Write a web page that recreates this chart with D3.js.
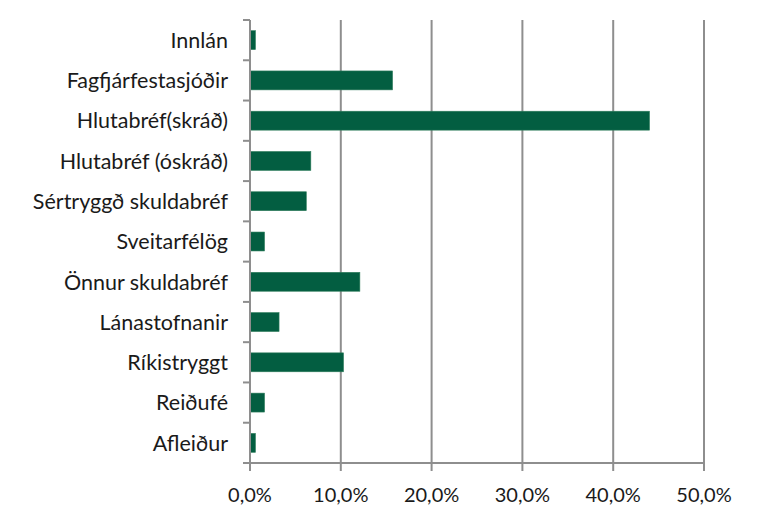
<!DOCTYPE html>
<html><head><meta charset="utf-8">
<script src="https://cdn.jsdelivr.net/npm/d3@7"></script>
<style>body{margin:0;background:#fff}svg{display:block}text{font-family:Lato,"Open Sans",sans-serif;fill:#1a1a1a}</style>
</head><body><svg id="c" width="770" height="522"></svg>
<script>
const categories = ["Innlán","Fagfjárfestasjóðir","Hlutabréf(skráð)","Hlutabréf (óskráð)","Sértryggð skuldabréf","Sveitarfélög","Önnur skuldabréf","Lánastofnanir","Ríkistryggt","Reiðufé","Afleiður"];
const values = [0.6, 15.7, 44.0, 6.7, 6.2, 1.6, 12.1, 3.2, 10.3, 1.6, 0.6];
const xTicks = [0, 10, 20, 30, 40, 50];

const m = {left: 250, right: 66, top: 20, bottom: 59};
const W = 770, H = 522;
const svg = d3.select("#c");
const x = d3.scaleLinear().domain([0, 50]).range([m.left, W - m.right]);
const y = d3.scaleBand().domain(categories).range([m.top, H - m.bottom]).paddingInner(0.53).paddingOuter(0.265);
const grey = "#8e8e8e";

// gridlines
svg.append("g").selectAll("line").data(xTicks.slice(1)).join("line")
  .attr("x1", d => x(d)).attr("x2", d => x(d))
  .attr("y1", m.top).attr("y2", H - m.bottom)
  .attr("stroke", grey).attr("stroke-width", 2);

// bars
svg.append("g").selectAll("rect").data(categories).join("rect")
  .attr("x", x(0)).attr("y", d => y(d))
  .attr("width", (d, i) => x(values[i]) - x(0))
  .attr("height", y.bandwidth())
  .attr("fill", "#035e41").attr("stroke", "#2f7d5c").attr("stroke-width", 0.6);

// y axis line and ticks at band boundaries
const yb = svg.append("g");
yb.append("line").attr("x1", x(0)).attr("x2", x(0)).attr("y1", m.top).attr("y2", H - m.bottom + 7)
  .attr("stroke", grey).attr("stroke-width", 2);
const bounds = d3.range(categories.length + 1).map(i => m.top + i * (H - m.top - m.bottom) / categories.length);
yb.selectAll("line.t").data(bounds).join("line").attr("class","t")
  .attr("x1", x(0) - 7).attr("x2", x(0)).attr("y1", d => d).attr("y2", d => d)
  .attr("stroke", grey).attr("stroke-width", 2);
yb.selectAll("text").data(categories).join("text")
  .attr("x", 228).attr("y", d => y(d) + y.bandwidth() / 2)
  .attr("dy", "0.36em").attr("text-anchor", "end")
  .style("font-size", "21.5px").text(d => d);

// x axis
const xa = svg.append("g");
xa.append("line").attr("x1", x(0) - 7).attr("x2", x(50)).attr("y1", H - m.bottom).attr("y2", H - m.bottom)
  .attr("stroke", grey).attr("stroke-width", 2);
xa.selectAll("line.t").data(xTicks).join("line").attr("class","t")
  .attr("x1", d => x(d)).attr("x2", d => x(d)).attr("y1", H - m.bottom).attr("y2", H - m.bottom + 8)
  .attr("stroke", grey).attr("stroke-width", 2);
xa.selectAll("text").data(xTicks).join("text")
  .attr("x", d => x(d)).attr("y", 502).attr("text-anchor", "middle")
  .style("font-size", "20px").text(d => d.toFixed(1).replace(".", ",") + "%");
</script></body></html>
